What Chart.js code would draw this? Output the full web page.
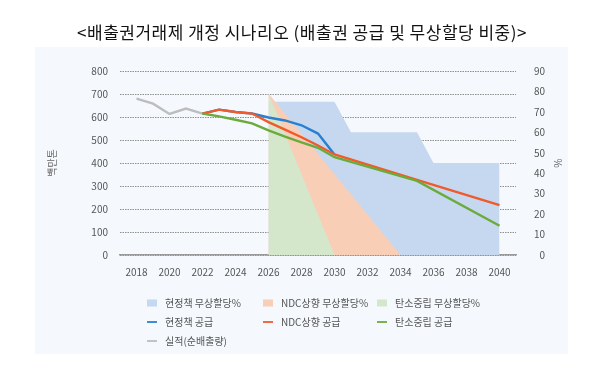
<!DOCTYPE html>
<html>
<head>
<meta charset="utf-8">
<script src="https://cdn.jsdelivr.net/npm/chart.js@4"></script>
<style>
  html, body { margin: 0; padding: 0; background: #ffffff; }
  #wrap { position: relative; width: 600px; height: 378px; }
</style>
</head>
<body>
<div id="wrap"><canvas id="c" width="600" height="378"></canvas></div>
<script>
// ---- data ----
const titleText = '<배출권거래제 개정 시나리오 (배출권 공급 및 무상할당 비중)>';
const leftAxisTitle = '백만톤';
const rightAxisTitle = '%';
const xTickYears = [2018, 2020, 2022, 2024, 2026, 2028, 2030, 2032, 2034, 2036, 2038, 2040];

// 실적(순배출량) – 백만톤
const actualYears = [2018, 2019, 2020, 2021, 2022];
const actualValues = [680, 658, 613, 637, 615];

// 현정책 공급
const curSupplyYears = [2022, 2023, 2024, 2025, 2026, 2027, 2028, 2029, 2030];
const curSupplyValues = [615, 632, 622, 615, 598, 585, 564, 528, 437];

// NDC상향 공급
const ndcSupplyYears = [2022, 2023, 2024, 2025, 2026, 2027, 2028, 2029, 2030, 2035, 2040];
const ndcSupplyValues = [615, 632, 622, 615, 578, 545, 512, 476, 437, 327, 217];

// 탄소중립 공급
const netSupplyYears = [2022, 2023, 2024, 2025, 2026, 2027, 2028, 2029, 2030, 2035, 2040];
const netSupplyValues = [615, 603, 588, 572, 542, 515, 490, 466, 425, 322, 127];

// 무상할당 비중 (%)
const curFreeYears = [2026, 2030, 2031, 2035, 2036, 2040];
const curFreeValues = [75, 75, 60, 60, 45, 45];
const ndcFreeYears = [2026, 2034];
const ndcFreeValues = [79, 0];
const netFreeYears = [2026, 2030];
const netFreeValues = [79, 0];

const labels = {
  curFree: '현정책 무상할당%',
  ndcFree: 'NDC상향 무상할당%',
  netFree: '탄소중립 무상할당%',
  curSupply: '현정책 공급',
  ndcSupply: 'NDC상향 공급',
  netSupply: '탄소중립 공급',
  actual: '실적(순배출량)'
};

const pts = (xs, ys) => xs.map((x, i) => ({ x: x, y: ys[i] }));

const FONT = '"Noto Sans CJK KR", "Noto Sans", sans-serif';

const lineDs = (label, xs, ys, color, order) => ({
  type: 'line', label, data: pts(xs, ys), yAxisID: 'y',
  borderColor: color, backgroundColor: color, borderWidth: 2.4,
  pointRadius: 0, fill: false, tension: 0, order, legendKind: 'line'
});
const areaDs = (label, xs, ys, color, order) => ({
  type: 'line', label, data: pts(xs, ys), yAxisID: 'y2',
  borderColor: 'rgba(0,0,0,0)', backgroundColor: color, borderWidth: 0,
  pointRadius: 0, fill: 'origin', tension: 0, order, legendKind: 'box'
});

const datasets = [
  areaDs(labels.curFree, curFreeYears, curFreeValues, '#c6d8ef', 7),
  areaDs(labels.ndcFree, ndcFreeYears, ndcFreeValues, '#f8ceb7', 6),
  areaDs(labels.netFree, netFreeYears, netFreeValues, '#d5e7cb', 5),
  lineDs(labels.curSupply, curSupplyYears, curSupplyValues, '#2a80cf', 3),
  lineDs(labels.ndcSupply, ndcSupplyYears, ndcSupplyValues, '#f15a2b', 2),
  lineDs(labels.netSupply, netSupplyYears, netSupplyValues, '#6aab3c', 1),
  lineDs(labels.actual, actualYears, actualValues, '#bdbdbd', 4)
];

const bgPlugin = {
  id: 'bg',
  beforeDraw(chart) {
    const ctx = chart.ctx;
    ctx.save();
    ctx.fillStyle = '#ffffff';
    ctx.fillRect(0, 0, chart.width, chart.height);
    ctx.fillStyle = '#f5f9fd';
    ctx.fillRect(35, 47, 533, 307);
    ctx.fillStyle = '#111111';
    ctx.font = '17px ' + FONT;
    try { ctx.letterSpacing = '0.5px'; } catch (e) {}
    ctx.textAlign = 'center';
    ctx.textBaseline = 'middle';
    ctx.fillText(titleText, 302, 33);
    ctx.restore();
  },
  afterDraw(chart) {
    const ctx = chart.ctx;
    const area = chart.chartArea;
    const midY = (area.top + area.bottom) / 2;
    ctx.save();
    ctx.fillStyle = '#666666';
    ctx.font = '10px ' + FONT;
    ctx.textAlign = 'center';
    ctx.textBaseline = 'middle';
    ctx.translate(52, midY);
    ctx.rotate(-Math.PI / 2);
    ctx.fillText(leftAxisTitle, 0, 0);
    ctx.restore();
    ctx.save();
    ctx.fillStyle = '#666666';
    ctx.font = '10px ' + FONT;
    ctx.textAlign = 'center';
    ctx.textBaseline = 'middle';
    ctx.translate(558, midY);
    ctx.rotate(Math.PI / 2);
    ctx.fillText(rightAxisTitle, 0, 0);
    ctx.restore();

    // legend (3 fixed columns)
    const colX = [147, 263, 377];
    const rowY = [303, 322, 341];
    ctx.save();
    ctx.font = '10px ' + FONT;
    ctx.textBaseline = 'middle';
    ctx.textAlign = 'left';
    chart.data.datasets.forEach((ds, k) => {
      const cx = colX[k % 3];
      const cy = rowY[Math.floor(k / 3)];
      if (ds.legendKind === 'box') {
        ctx.fillStyle = ds.backgroundColor;
        ctx.fillRect(cx, cy - 3.5, 10, 7);
      } else {
        ctx.strokeStyle = ds.borderColor;
        ctx.lineWidth = 1.8;
        ctx.beginPath();
        ctx.moveTo(cx, cy);
        ctx.lineTo(cx + 10, cy);
        ctx.stroke();
      }
      ctx.fillStyle = '#555555';
      ctx.fillText(ds.label, cx + 18, cy);
    });
    ctx.restore();
  }
};

new Chart(document.getElementById('c'), {
  data: { datasets },
  options: {
    responsive: false,
    animation: false,
    devicePixelRatio: 1,
    layout: { padding: { left: 0, right: 55, top: 71, bottom: 0 } },
    plugins: { legend: { display: false }, title: { display: false }, tooltip: { enabled: false } },
    scales: {
      x: {
        type: 'linear', min: 2017, max: 2041,
        afterBuildTicks: (s) => { s.ticks = xTickYears.map(v => ({ value: v })); },
        afterFit: (s) => { s.height = 123; },
        grid: { display: false, drawTicks: false },
        border: { display: true, color: '#9a9a9a', width: 1.5 },
        ticks: { color: '#555', font: { family: FONT, size: 10 }, padding: 11, maxRotation: 0, autoSkip: false,
                 callback: (v) => String(v) }
      },
      y: {
        position: 'left', min: 0, max: 800,
        afterFit: (s) => { s.width = 120; },
        ticks: { stepSize: 100, color: '#555', font: { family: FONT, size: 10 }, padding: 12 },
        grid: { color: '#8f8f8f', lineWidth: 1, drawTicks: false },
        border: { display: false, dash: [1.5, 1] }
      },
      y2: {
        position: 'right', min: 0, max: 90,
        afterFit: (s) => { s.width = 29; },
        ticks: { stepSize: 10, color: '#555', font: { family: FONT, size: 10 }, padding: 0, crossAlign: 'far' },
        grid: { display: false, drawTicks: false },
        border: { display: false }
      }
    }
  },
  plugins: [bgPlugin]
});
</script>
</body>
</html>
